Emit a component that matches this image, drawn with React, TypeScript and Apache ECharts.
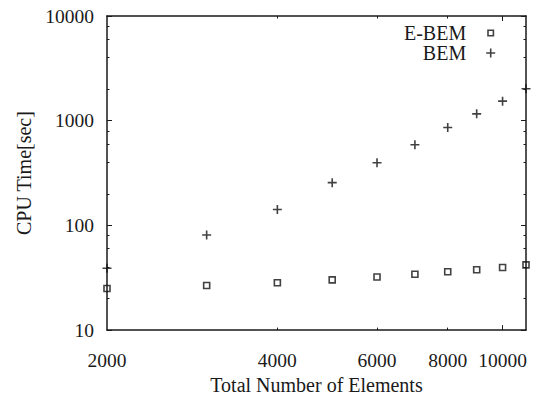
import React, { useEffect, useRef } from "react";
import * as echarts from "echarts";

const ebemElements = [2000, 3000, 4000, 5000, 6000, 7000, 8000, 9000, 10000, 11000];
const ebemTimes = [25, 26.7, 28.3, 30.2, 32.2, 34.1, 36.1, 37.7, 39.6, 42];
const bemElements = [2000, 3000, 4000, 5000, 6000, 7000, 8000, 9000, 10000, 11000];
const bemTimes = [39, 81, 142, 256, 396, 589, 862, 1162, 1538, 2022];
const xLabels = [2000, 4000, 6000, 8000, 10000];
const xMajorTicks = [10000];
const xMinorTicks = [4000, 6000, 8000];
const yTicks = [10, 100, 1000, 10000];
const yMinorTicks = [20, 40, 60, 80, 200, 400, 600, 800, 2000, 4000, 6000, 8000];

const FONT = "Liberation Serif";
const INK = "#1a1a1a";
const SQUARE = "path://M0,0M10,10M2,2L8,2L8,8L2,8Z";
const PLUS = "path://M0,5L10,5M5,0L5,10";

export default function App() {
  const ref = useRef<HTMLDivElement>(null);
  useEffect(() => {
    const chart = echarts.init(ref.current!, undefined, { renderer: "svg" });
    const baseX = { type: "log", logBase: 10, min: 2000, max: 11000, splitLine: { show: false } };
    const baseY = { type: "log", logBase: 10, min: 10, max: 10000, splitLine: { show: false } };
    const line = { show: true, onZero: false, lineStyle: { color: INK, width: 1.5 } };
    const noLine = { show: false };
    const tick = (vals: number[], len: number) => ({
      show: true,
      inside: true,
      length: len,
      customValues: vals,
      lineStyle: { color: INK, width: 1 },
    });
    const marker = { color: "transparent", borderColor: "#111", borderWidth: 1.6 };
    chart.setOption({
      animation: false,
      backgroundColor: "#fff",
      textStyle: { fontFamily: FONT },
      grid: { left: 107, right: 17, top: 16, bottom: 63, containLabel: false },
      legend: {
        orient: "vertical",
        right: 47,
        top: 23,
        align: "right",
        itemGap: 0,
        itemWidth: 9,
        itemHeight: 9,
        padding: 0,
        selectedMode: false,
        textStyle: { fontFamily: FONT, fontSize: 20, color: INK, width: 70, padding: [3, 15, 0, 0] },
        data: [
          { name: "E-BEM", icon: SQUARE, itemStyle: marker },
          { name: "BEM", icon: PLUS, itemStyle: marker },
        ],
      },
      xAxis: [
        {
          ...baseX,
          position: "bottom",
          axisLine: line,
          axisTick: tick(xMajorTicks, 5),
          axisLabel: {
            show: true,
            customValues: xLabels,
            margin: 20,
            fontSize: 19.5,
            fontFamily: FONT,
            color: INK,
            formatter: (v: number) => String(v),
          },
          name: "Total Number of Elements",
          nameLocation: "middle",
          nameGap: 40,
          nameTextStyle: { fontSize: 20, fontFamily: FONT, color: INK },
        },
        { ...baseX, position: "bottom", axisLine: noLine, axisTick: tick(xMinorTicks, 2.5), axisLabel: { show: false } },
        { ...baseX, position: "top", axisLine: line, axisTick: tick(xMajorTicks, 5), axisLabel: { show: false } },
        { ...baseX, position: "top", axisLine: noLine, axisTick: tick(xMinorTicks, 2.5), axisLabel: { show: false } },
      ],
      yAxis: [
        {
          ...baseY,
          position: "left",
          axisLine: line,
          axisTick: tick(yTicks, 5),
          axisLabel: {
            show: true,
            customValues: yTicks,
            margin: 13,
            fontSize: 19.5,
            fontFamily: FONT,
            color: INK,
            padding: [6, 0, 0, 0],
            formatter: (v: number) => String(v),
          },
          name: "CPU Time[sec]",
          nameLocation: "middle",
          nameGap: 70,
          nameTextStyle: { fontSize: 20, fontFamily: FONT, color: INK },
        },
        { ...baseY, position: "left", axisLine: noLine, axisTick: tick(yMinorTicks, 2.5), axisLabel: { show: false } },
        { ...baseY, position: "right", axisLine: line, axisTick: tick(yTicks, 5), axisLabel: { show: false } },
        { ...baseY, position: "right", axisLine: noLine, axisTick: tick(yMinorTicks, 2.5), axisLabel: { show: false } },
      ],
      series: [
        {
          name: "E-BEM",
          type: "scatter",
          xAxisIndex: 0,
          yAxisIndex: 0,
          symbol: "rect",
          symbolSize: 6,
          clip: false,
          itemStyle: marker,
          data: ebemElements.map((x, i) => [x, ebemTimes[i]]),
        },
        {
          name: "BEM",
          type: "scatter",
          xAxisIndex: 0,
          yAxisIndex: 0,
          symbol: PLUS,
          symbolSize: 9,
          clip: false,
          itemStyle: marker,
          data: bemElements.map((x, i) => [x, bemTimes[i]]),
        },
      ],
    });
    return () => chart.dispose();
  }, []);
  return <div ref={ref} style={{ position: "fixed", left: 0, top: 0, width: 543, height: 400 }} />;
}
